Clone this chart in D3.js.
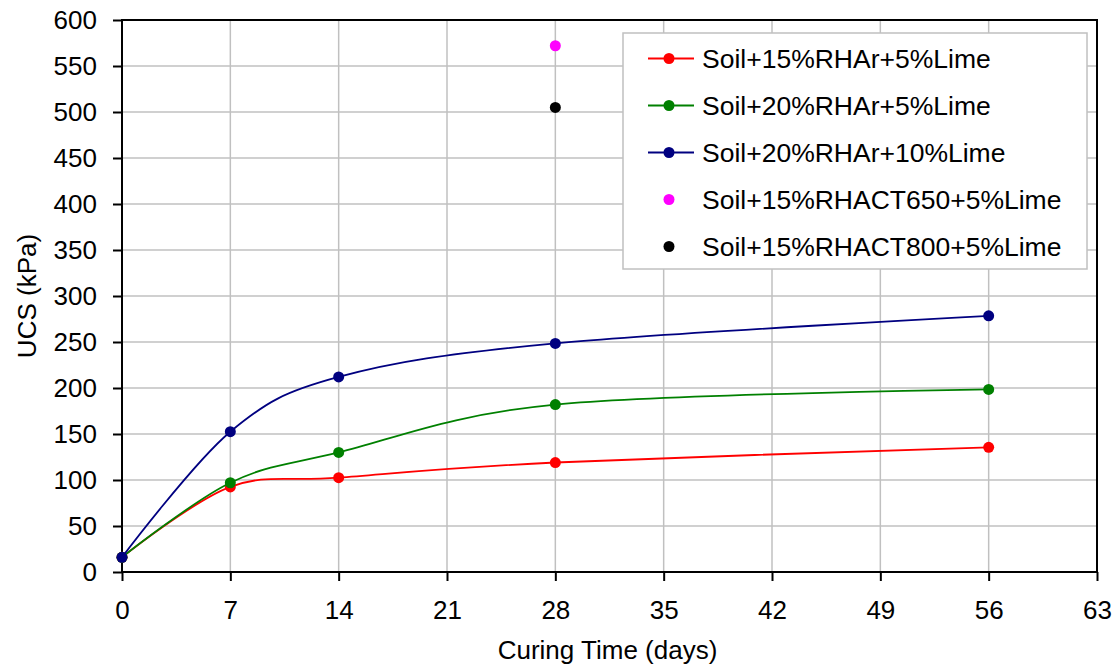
<!DOCTYPE html>
<html>
<head>
<meta charset="utf-8">
<script src="https://cdn.jsdelivr.net/npm/d3@7"></script>
<style>
  body { margin: 0; background: #fff; }
  text { font-family: "Liberation Sans", Arial, sans-serif; fill: #000; }
</style>
</head>
<body>
<script>
// data
var days = [0, 7, 14, 28, 56];
var rha15lime5 = [16, 92.5, 102.5, 119, 135.5];
var rha20lime5 = [16, 97, 130, 182, 198.5];
var rha20lime10 = [16, 152.5, 212, 248.5, 278.5];
var act650Day = [28];
var act650 = [572];
var act800Day = [28];
var act800 = [505];

var xTicks = [0, 7, 14, 21, 28, 35, 42, 49, 56, 63];
var yTicks = [0, 50, 100, 150, 200, 250, 300, 350, 400, 450, 500, 550, 600];

var seriesNames = ["Soil+15%RHAr+5%Lime", "Soil+20%RHAr+5%Lime", "Soil+20%RHAr+10%Lime",
                   "Soil+15%RHACT650+5%Lime", "Soil+15%RHACT800+5%Lime"];
var seriesColors = ["#ff0000", "#008000", "#000080", "#ff00ff", "#000000"];

var width = 1115, height = 670;
var margin = {top: 20, right: 18, bottom: 98, left: 122};

var svg = d3.select("body").append("svg")
    .attr("width", width)
    .attr("height", height);

var x = d3.scaleLinear().domain([0, 63]).range([margin.left, width - margin.right]);
var y = d3.scaleLinear().domain([0, 600]).range([height - margin.bottom, margin.top]);

// grid
svg.append("g").selectAll("line")
    .data(xTicks.slice(1, -1))
    .enter().append("line")
    .attr("x1", d => x(d)).attr("x2", d => x(d))
    .attr("y1", y(0)).attr("y2", y(600))
    .attr("stroke", "#c0c0c0").attr("stroke-width", 1.5);
svg.append("g").selectAll("line")
    .data(yTicks.slice(1, -1))
    .enter().append("line")
    .attr("x1", x(0)).attr("x2", x(63))
    .attr("y1", d => y(d)).attr("y2", d => y(d))
    .attr("stroke", "#c0c0c0").attr("stroke-width", 1.5);

// axes
var xAxis = d3.axisBottom(x).tickValues(xTicks).tickSize(9).tickPadding(20);
var yAxis = d3.axisLeft(y).tickValues(yTicks).tickSize(9).tickPadding(16);

var gx = svg.append("g").attr("transform", "translate(0," + y(0) + ")").call(xAxis);
var gy = svg.append("g").attr("transform", "translate(" + x(0) + ",0)").call(yAxis);
[gx, gy].forEach(function(g) {
  g.select(".domain").remove();
  g.selectAll("line").attr("stroke", "#000").attr("stroke-width", 2);
  g.selectAll("text").style("font-size", "26px").attr("fill", "#000");
});

// frame
svg.append("rect")
    .attr("x", x(0)).attr("y", y(600))
    .attr("width", x(63) - x(0)).attr("height", y(0) - y(600))
    .attr("fill", "none").attr("stroke", "#000").attr("stroke-width", 2);

// titles
svg.append("text")
    .attr("x", (x(0) + x(63)) / 2 - 2).attr("y", 659)
    .attr("text-anchor", "middle").style("font-size", "26px")
    .text("Curing Time (days)");
svg.append("text")
    .attr("transform", "translate(36," + (y(0) + y(600)) / 2 + ") rotate(-90)")
    .attr("text-anchor", "middle").style("font-size", "26px")
    .text("UCS (kPa)");

// lines
var lineSeries = [rha15lime5, rha20lime5, rha20lime10];
var line = d3.line()
    .x(function(d, i) { return x(days[i]); })
    .y(function(d) { return y(d); })
    .curve(d3.curveCardinal.tension(0));

lineSeries.forEach(function(vals, k) {
  svg.append("path")
      .datum(vals)
      .attr("d", line)
      .attr("fill", "none")
      .attr("stroke", seriesColors[k])
      .attr("stroke-width", 1.8);
  svg.append("g").selectAll("circle")
      .data(vals)
      .enter().append("circle")
      .attr("cx", function(d, i) { return x(days[i]); })
      .attr("cy", function(d) { return y(d); })
      .attr("r", 5.5)
      .attr("fill", seriesColors[k]);
});

// single points
var pointSeries = [[act650Day, act650], [act800Day, act800]];
pointSeries.forEach(function(p, k) {
  svg.append("g").selectAll("circle")
      .data(p[1])
      .enter().append("circle")
      .attr("cx", function(d, i) { return x(p[0][i]); })
      .attr("cy", function(d) { return y(d); })
      .attr("r", 5.5)
      .attr("fill", seriesColors[k + 3]);
});

// legend
var legend = svg.append("g").attr("transform", "translate(623,33)");
legend.append("rect")
    .attr("width", 464).attr("height", 236)
    .attr("fill", "#fff").attr("stroke", "#c0c0c0").attr("stroke-width", 1.5);

var items = legend.selectAll("g.item")
    .data(seriesNames)
    .enter().append("g")
    .attr("class", "item")
    .attr("transform", function(d, i) { return "translate(0," + (25.5 + i * 47) + ")"; });

items.filter(function(d, i) { return i < 3; })
    .append("line")
    .attr("x1", 25).attr("x2", 71)
    .attr("stroke", function(d, i) { return seriesColors[i]; })
    .attr("stroke-width", 1.8);
items.append("circle")
    .attr("cx", 46).attr("r", 5.5)
    .attr("fill", function(d, i) { return seriesColors[i]; });
items.append("text")
    .attr("x", 79).attr("dy", "0.35em")
    .style("font-size", "26.5px")
    .text(function(d) { return d; });
</script>
</body>
</html>
